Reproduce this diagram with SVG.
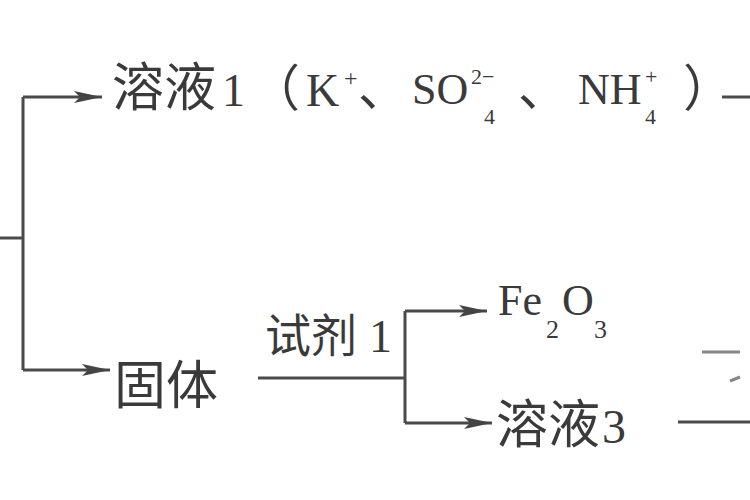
<svg xmlns="http://www.w3.org/2000/svg" width="750" height="500" viewBox="0 0 750 500">
<defs>
<marker id="ah" markerUnits="userSpaceOnUse" markerWidth="30" markerHeight="16" viewBox="0 0 30 16" refX="28" refY="8" orient="auto">
<path d="M0,2 L28,8 L0,14 L6,8 Z" fill="#444"/>
</marker>
<style>
.ln{stroke:#4a4a4a;stroke-width:3;fill:none}
.cj{font-family:"Noto Sans CJK SC","Noto Sans CJK JP",sans-serif;fill:#3a3a3a}
.lt{font-family:"Liberation Serif","DejaVu Serif",serif;fill:#3a3a3a}
.faint{stroke:#888;stroke-width:3;fill:none}
</style>
</defs>
<rect width="750" height="500" fill="#ffffff"/>
<g id="connectors">
<path class="ln" d="M0,238 H23"/>
<path class="ln" d="M23,97 V370"/>
<path class="ln" d="M23,97 H102" marker-end="url(#ah)"/>
<path class="ln" d="M23,370 H110" marker-end="url(#ah)"/>
<path class="ln" d="M722,97 H750"/>
<path class="ln" d="M258,378 H405"/>
<path class="ln" d="M405,311 V423"/>
<path class="ln" d="M405,311 H487" marker-end="url(#ah)"/>
<path class="ln" d="M405,423 H492" marker-end="url(#ah)"/>
<path class="ln" d="M678,422 H750"/>
<path class="faint" d="M702,352 H740"/>
<path class="faint" d="M730,381 L740,377"/>
</g>
<g id="solution1">
<text class="cj" y="106" font-size="50"><tspan x="112" font-size="52">溶液</tspan><tspan class="lt" x="222" font-size="46">1</tspan><tspan x="250">（</tspan><tspan class="lt" x="306" font-size="46">K</tspan><tspan class="lt" x="344" y="86" font-size="24">+</tspan><tspan x="358" y="106">、</tspan><tspan class="lt" x="412" y="104" font-size="44">SO</tspan><tspan class="lt" x="471" y="84" font-size="22">2−</tspan><tspan class="lt" x="484" y="124" font-size="22">4</tspan><tspan x="518" y="106">、</tspan><tspan class="lt" x="578" y="104" font-size="44">NH</tspan><tspan class="lt" x="645" y="84" font-size="22">+</tspan><tspan class="lt" x="645" y="124" font-size="22">4</tspan><tspan x="683" y="106">）</tspan></text>
</g>
<g id="solid">
<text class="cj" x="114" y="404" font-size="52">固体</text>
</g>
<g id="reagent1">
<text class="cj" y="352" font-size="46"><tspan x="265">试剂</tspan><tspan class="lt" x="369">1</tspan></text>
</g>
<g id="fe2o3">
<text class="lt" y="315" font-size="44"><tspan x="498">Fe</tspan><tspan x="546" y="338" font-size="26">2</tspan><tspan x="562" y="315">O</tspan><tspan x="594" y="338" font-size="26">3</tspan></text>
</g>
<g id="solution3">
<text class="cj" y="443" font-size="52"><tspan x="496">溶液</tspan><tspan class="lt" x="602" font-size="48">3</tspan></text>
</g>
</svg>
